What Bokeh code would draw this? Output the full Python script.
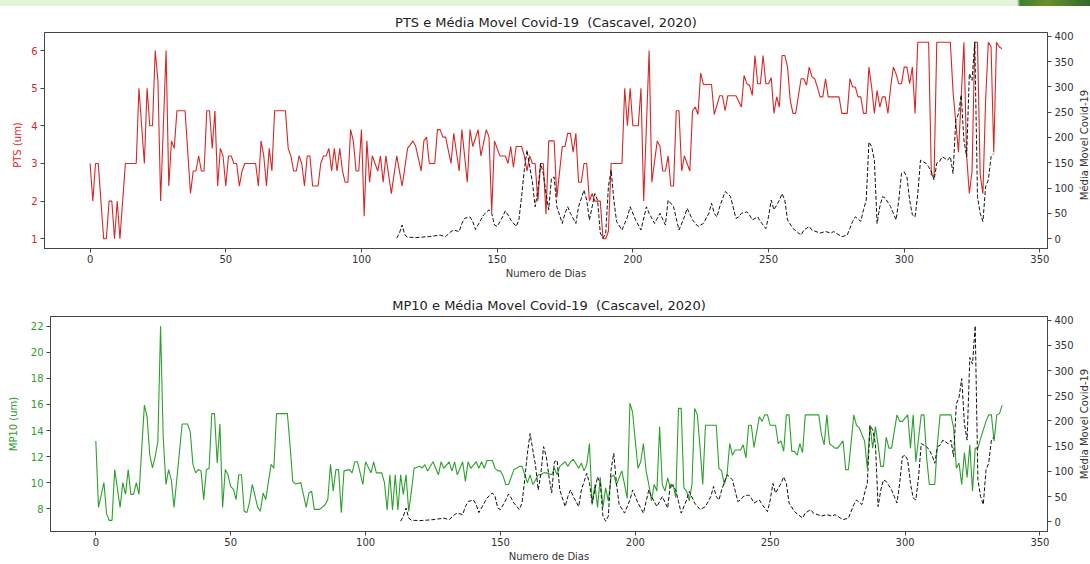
from bokeh.plotting import figure
from bokeh.models import Range1d, LinearAxis, FixedTicker, Title, Div
from bokeh.layouts import column, row
from bokeh.embed import file_html
from bokeh.resources import INLINE

# ---------------- data ----------------
pts = [(0,3),(1,2),(2,3),(3,3),(5,1),(6,1),(7,2),(8,2),(9,1),(10,2),(11,1),(13,3),(17,3),(18,5),(20,3),(21,5),
       (22,4),(23,4),(24,6),(25,5.2),(26,2),(28,6),(29,2.4),(30,3.6),(31,3.4),(32,4.4),(35,4.4),(37,2.2),(38,2.8),
       (39,2.8),(40,3.2),(41,2.8),(42,2.8),(43,4.4),(44,4.4),(45,3.4),(46,4.4),(47,2.4),(48,3.4),(49,3.2),(50,2.4),
       (51,3.2),(52,3.2),(53,3),(54,3),(55,2.4),(56,2.8),(57,3),(61,3),(62,2.4),(63,3.6),(64,3.2),(65,2.4),(66,3.4),
       (67,2.8),(68,4.4),(72,4.4),(73,3.4),(74,3.2),(75,2.8),(76,2.8),(77,3.2),(78,3),(79,2.4),(80,3.2),(81,3.2),
       (82,2.4),(84,2.4),(85,3),(86,3.2),(87,3.2),(88,3.4),(89,2.8),(90,3.4),(91,2.8),(92,3.4),(93,2.8),(94,2.5),
       (95,2.5),(96,3.9),(97,3.6),(98,2.8),(99,2.8),(100,3.9),(101,1.6),(102,3.6),(103,2.5),(104,3.2),(105,3),
       (106,2.8),(107,3.2),(108,2.5),(109,3.2),(111,2.2),(113,3.2),(115,2.4),(117,3.4),(119,3.6),(120,3.45),
       (122,2.8),(123,3.6),(124,3.7),(125,3.0),(127,3.0),(128,3.9),(129,3.9),(130,3.7),(131,3.7),(133,3.0),
       (134,3.8),(136,2.8),(137,3.9),(139,2.5),(140,3.9),(141,3.45),(143,3.9),(144,3.2),(146,3.9),(147,3.7),
       (148,1.7),(149,3.6),(151,3.2),(153,3.2),(154,3.0),(155,3.45),(156,2.9),(157,3.45),(159,3.45),(160,3.2),
       (161,2.8),(162,3.2),(163,3.0),(164,3.0),(165,2.0),(166,3.0),(167,3.0),(168,1.65),(169,3.6),(171,3.6),
       (172,2.1),(174,3.45),(175,3.45),(176,3.8),(177,3.8),(178,3.3),(179,3.8),(180,2.5),(181,2.5),(182,3.0),
       (183,3.0),(184,2.0),(185,2.2),(186,2.0),(188,2.0),(189,1.0),(190,1.0),(191,1.2),(192,3.0),(196,3.0),
       (197,5.0),(198,4.0),(199,5.0),(200,4.0),(202,4.0),(203,5.0),(204,2.0),(205,4.0),(206,6.0),(207,2.5),
       (209,3.6),(210,3.45),(211,2.8),(212,2.8),(213,3.2),(214,2.4),(215,2.4),(216,4.4),(217,4.4),(218,2.8),
       (219,3.2),(220,3.0),(221,2.8),(222,4.4),(223,4.5),(224,4.3),(225,5.4),(226,5.1),(229,5.1),(230,4.3),
       (232,4.8),(233,4.8),(234,4.4),(235,4.8),(238,4.8),(240,4.5),(241,5.34),(242,5.12),(243,5.08),(244,4.81),
       (245,5.87),(246,5.12),(247,5.12),(248,5.87),(249,5.12),(250,5.12),(251,5.28),(252,4.33),(253,4.77),
       (254,4.5),(255,5.87),(256,5.87),(257,5.56),(258,4.68),(259,4.33),(260,4.33),(262,5.25),(263,5.25),
       (264,5.08),(265,5.56),(266,5.3),(267,5.25),(268,5.03),(269,4.77),(270,4.77),(271,5.25),(272,4.77),
       (276,4.77),(277,4.33),(279,4.33),(280,5.25),(281,5.03),(282,5.03),(283,4.77),(284,4.77),(285,4.33),
       (286,4.33),(287,5.56),(288,5.03),(289,4.33),(290,4.94),(291,4.5),(292,4.77),(293,4.77),(294,4.33),
       (295,5.03),(296,5.56),(297,5.38),(298,5.12),(299,5.12),(300,5.56),(301,5.56),(302,5.12),(303,5.56),
       (304,4.33),(305,6.22),(309,6.22),(310,2.7),(311,2.65),(312,6.22),(317,6.22),(318,4.9),(320,3.3),
       (322,6.22),(323,3.2),(324,2.2),(325,2.8),(326,6.22),(327,6.22),(328,2.7),(329,2.2),(330,4.7),
       (331,6.22),(332,6.1),(333,3.3),(334,6.22),(335,6.1),(336,6.05)]

mp10 = [(0,13.2),(1,8.1),(3,10.0),(4,7.6),(5,7.1),(6,7.1),(7,11.0),(9,8.1),(10,10.0),(11,9.1),(12,11.0),(13,9.1),
        (14,9.1),(15,10.0),(16,9.1),(18,15.95),(19,15.06),(20,12.14),(21,11.13),(22,12.0),(23,13.16),(24,22.0),
        (25,13.4),(26,9.86),(27,11.0),(28,10.2),(29,8.1),(30,10.2),(32,14.5),(34,14.5),(35,13.9),(36,11.4),
        (37,10.75),(38,11.0),(39,10.9),(40,8.7),(41,11.0),(42,11.1),(43,15.3),(44,15.3),(45,11.5),(46,14.5),
        (47,8.1),(48,11.0),(49,10.6),(50,9.7),(51,9.5),(52,8.7),(53,10.6),(54,10.6),(55,7.8),(56,7.7),(57,8.5),
        (58,9.86),(59,9.0),(60,8.1),(61,7.8),(62,9.2),(63,8.7),(64,10.1),(65,11.4),(66,11.1),(67,15.3),(71,15.3),
        (72,12.9),(73,10.1),(74,9.9),(76,10.0),(78,8.1),(79,9.2),(80,9.35),(81,7.95),(83,7.95),(85,8.3),(86,8.7),
        (87,11.4),(88,9.35),(89,11.0),(90,11.0),(91,7.7),(92,10.9),(94,11.0),(95,10.75),(96,11.6),(97,11.6),
        (99,9.86),(100,11.6),(102,10.75),(103,11.6),(104,10.75),(106,10.75),(107,10.0),(108,7.9),(109,10.6),
        (110,7.9),(111,10.6),(112,7.9),(113,10.6),(114,9.1),(115,10.6),(116,7.8),(117,9.35),(118,11.1),
        (120,11.25),(121,11.13),(122,11.38),(123,10.9),(125,11.6),(126,11.1),(127,10.6),(128,11.6),(129,11.1),
        (131,11.6),(132,10.9),(133,11.6),(134,10.6),(136,11.6),(137,10.1),(138,11.6),(139,11.1),(141,11.6),
        (142,11.1),(143,11.6),(144,11.1),(145,11.7),(147,11.7),(148,11.1),(149,10.9),(150,10.9),(151,10.5),
        (152,9.86),(153,9.86),(155,11.0),(156,11.1),(157,11.25),(158,11.25),(160,9.98),(161,10.6),(162,9.86),
        (163,10.2),(164,10.6),(165,10.6),(166,10.75),(167,10.75),(169,10.6),(170,11.1),(171,10.6),(172,11.25),
        (174,11.6),(175,11.25),(176,11.6),(177,11.8),(179,11.1),(180,11.5),(181,10.9),(182,11.4),(183,13.0),
        (184,8.3),(185,9.86),(186,8.1),(187,10.4),(188,8.1),(189,9.6),(190,8.6),(191,10.4),(192,10.6),(193,9.86),
        (195,10.9),(196,9.86),(197,8.8),(198,16.1),(199,15.4),(200,13.2),(201,11.1),(202,11.6),(203,13.0),
        (204,10.9),(205,9.86),(206,8.6),(207,9.86),(208,9.35),(209,14.3),(210,9.86),(211,9.35),(212,10.36),
        (213,9.6),(214,9.86),(215,8.84),(216,15.7),(217,15.7),(218,9.6),(219,9.35),(220,8.6),(221,9.86),
        (222,15.7),(223,15.2),(224,12.65),(225,9.86),(226,14.4),(230,14.4),(231,11.1),(232,10.9),(233,9.86),
        (234,10.6),(235,13.0),(236,12.1),(237,12.5),(239,12.5),(240,12.9),(241,11.9),(242,14.4),(243,14.4),
        (244,12.7),(246,15.06),(247,14.7),(248,15.2),(249,15.2),(250,14.4),(252,14.4),(253,13.0),(254,13.2),
        (255,12.4),(256,15.2),(257,15.2),(258,12.4),(259,12.4),(260,12.1),(261,13.0),(262,12.3),(263,15.2),
        (268,15.2),(269,13.7),(270,12.9),(271,15.2),(272,13.0),(274,12.65),(275,12.65),(277,13.2),(278,11.0),
        (279,11.0),(281,15.2),(282,14.4),(283,14.2),(285,13.2),(286,11.1),(287,14.4),(288,12.65),(289,14.3),
        (290,12.9),(291,11.25),(292,11.25),(293,13.5),(294,12.65),(295,12.65),(297,15.2),(298,14.7),(299,14.7),
        (301,15.2),(302,12.65),(303,15.2),(304,11.6),(306,15.2),(307,15.2),(308,11.9),(309,9.86),(311,9.86),
        (312,13.0),(313,15.2),(317,15.2),(318,14.2),(319,11.1),(320,11.5),(321,9.86),(322,12.3),(323,10.4),
        (324,12.9),(325,9.35),(326,12.65),(327,12.65),(328,13.4),(330,14.7),(331,15.2),(332,15.2),(333,13.2),
        (334,15.2),(335,15.3),(336,15.95)]

covid = [(113,1),(114,11),(115,27),(116,7),(117,3),(120,2),(125,4),(129,7),(131,4),(133,14),(134,17),(136,14),
         (137,30),(138,40),(140,43),(141,34),(142,18),(144,37),(145,47),(147,57),(148,50),(149,27),(150,24),
         (152,43),(153,55),(154,47),(155,37),(157,24),(158,37),(159,83),(160,136),(161,175),(162,142),(163,112),
         (164,63),(165,96),(166,149),(167,129),(168,89),(169,57),(170,119),(171,122),(172,63),(174,30),(175,50),
         (176,63),(177,50),(179,30),(180,63),(182,96),(183,76),(184,37),(186,89),(187,76),(188,11),(189,1),
         (190,11),(191,103),(192,136),(193,76),(194,34),(196,17),(198,43),(199,63),(201,37),(203,17),(205,63),
         (206,50),(208,30),(210,50),(212,27),(213,76),(215,63),(216,40),(217,17),(219,43),(220,60),(222,37),
         (224,24),(226,30),(228,50),(229,70),(230,50),(231,43),(232,63),(234,93),(235,89),(236,83),(238,40),
         (239,43),(240,50),(242,53),(243,47),(244,37),(246,43),(247,34),(249,20),(250,43),(251,76),(252,57),
         (254,76),(255,89),(256,76),(257,37),(259,20),(262,7),(263,17),(265,24),(266,17),(269,11),(271,14),
         (273,11),(274,14),(277,4),(279,7),(281,34),(282,43),(284,34),(285,57),(286,76),(287,191),(288,182),
         (289,155),(290,30),(291,63),(292,83),(293,80),(295,63),(296,50),(297,37),(298,76),(299,129),(300,132),
         (301,122),(302,76),(303,47),(304,43),(305,89),(306,155),(308,149),(309,142),(310,132),(311,116),
         (312,149),(313,152),(314,162),(316,155),(317,162),(318,129),(319,234),(320,247),(321,284),(322,195),
         (323,162),(324,326),(325,313),(326,389),(327,83),(328,50),(329,34),(330,103),(331,116),(332,162),
         (333,168)]

x_ticks = [0, 50, 100, 150, 200, 250, 300, 350]
pts_ticks = [1, 2, 3, 4, 5, 6]
mp10_ticks = [8, 10, 12, 14, 16, 18, 20, 22]
cov_ticks = [0, 50, 100, 150, 200, 250, 300, 350, 400]

RED = "#d62728"
GREEN = "#2ca02c"
AX = "#444444"
TXT = "#333333"
FONT = "DejaVu Sans"
XR = (-16.8, 352.8)
COVR = (-19.5, 407.5)

LW = 24   # width of the left label strip
RW = 14   # width of the right label strip


def style_axis(ax, color=TXT):
    ax.major_tick_out = 4
    ax.major_tick_in = 0
    ax.minor_tick_out = 0
    ax.minor_tick_in = 0
    ax.axis_line_color = AX
    ax.major_tick_line_color = AX
    ax.major_label_text_font = FONT
    ax.major_label_text_font_size = "10px"
    ax.major_label_text_color = color
    ax.axis_label_text_font = FONT
    ax.axis_label_text_font_size = "10px"
    ax.axis_label_text_font_style = "normal"
    ax.axis_label_text_color = color
    ax.major_label_standoff = 3
    ax.axis_label_standoff = 2


def vlabel(text, color, width, height, cx):
    html = ('<div style="position:relative;width:%dpx;height:%dpx;">'
            '<span style="position:absolute;left:%dpx;top:50%%;transform:translate(-50%%,-50%%) rotate(-90deg);'
            'white-space:nowrap;font-family:\'DejaVu Sans\';font-size:10px;line-height:12px;color:%s;">%s</span></div>'
            % (width, height, cx, color, text))
    return Div(text=html, width=width, height=height, margin=(0, 0, 0, 0))


def make_panel(title, series, color, yrange, yticks, height, bl, bt, bb, tstand):
    p = figure(width=1090 - LW - RW, height=height, output_backend="svg", toolbar_location=None,
               x_range=Range1d(*XR), y_range=Range1d(*yrange),
               min_border_left=bl, min_border_right=42 - RW, min_border_top=bt, min_border_bottom=bb)
    p.title = Title(text=title, align="center", text_font=FONT, text_font_size="13px",
                    text_font_style="normal", text_color="#222222", standoff=tstand)
    p.extra_y_ranges = {"cov": Range1d(*COVR)}
    p.xgrid.visible = False
    p.ygrid.visible = False
    p.outline_line_color = AX
    p.outline_line_width = 1
    p.background_fill_color = "white"
    p.border_fill_color = "white"

    p.xaxis.ticker = FixedTicker(ticks=x_ticks)
    p.xaxis.axis_label = "Numero de Dias"
    style_axis(p.xaxis[0])
    p.xaxis[0].major_label_standoff = 2

    p.yaxis.ticker = FixedTicker(ticks=yticks)
    style_axis(p.yaxis[0], color)

    rax = LinearAxis(y_range_name="cov", ticker=FixedTicker(ticks=cov_ticks))
    style_axis(rax)
    p.add_layout(rax, "right")

    xs = [d for d, v in series]
    ys = [v for d, v in series]
    p.line(xs, ys, line_color=color, line_width=1.1)

    cx = [d for d, v in covid]
    cy = [v for d, v in covid]
    p.line(cx, cy, line_color="#111111", line_width=1, line_dash="4 2", y_range_name="cov")
    return p


band = Div(text="", width=1090, height=6, margin=(0, 0, 0, 0),
           styles={"background": "linear-gradient(to right, #e4f4d8 0%, #e4f4d8 93.3%, #3f7f30 93.6%, #6c8f2a 96%, #2f6b2a 100%)"})

H1, H2 = 277, 281
p1 = make_panel("PTS e Média Movel Covid-19\u00a0 (Cascavel, 2020)", pts, RED,
                (0.74, 6.48), pts_ticks, H1, 44 - LW, 26, 35, 6)
p2 = make_panel("MP10 e Média Movel Covid-19\u00a0 (Cascavel, 2020)", mp10, GREEN,
                (6.25, 22.75), mp10_ticks, H2, 50 - LW, 33, 31, 7)

row1 = row(vlabel("PTS (um)", RED, LW, H1, 18), p1, vlabel("Média Movel Covid-19", TXT, RW, H1, 9), spacing=0)
row2 = row(vlabel("MP10 (um)", GREEN, LW, H2, 14), p2, vlabel("Média Movel Covid-19", TXT, RW, H2, 9), spacing=0)

layout = column(band, row1, row2, spacing=0)

open("out.html", "w").write(file_html(layout, INLINE))
